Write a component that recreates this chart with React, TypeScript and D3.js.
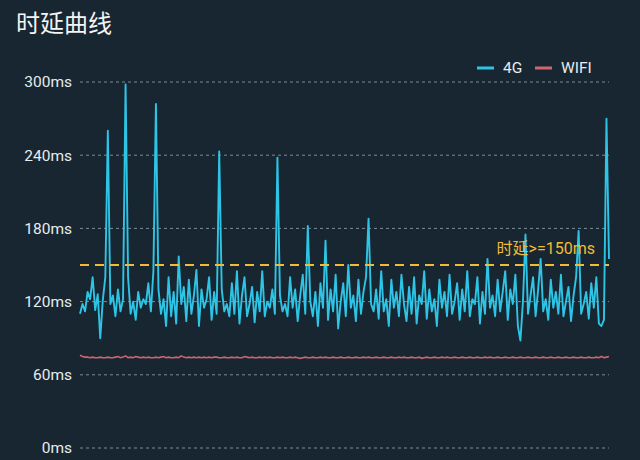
import { useEffect, useRef } from 'react';
import * as d3 from 'd3';

const yTicks = [0, 60, 120, 180, 240, 300];
const threshold = 150;
const thresholdLabel = '时延>=150ms';
const seriesNames = ['4G', 'WIFI'];

const lte = [
  110, 118, 112, 128, 122, 140, 113, 126, 90, 121,
  140, 260, 118, 125, 108, 130, 112, 122, 298, 140,
  110, 120, 105, 128, 115, 122, 118, 135, 112, 145,
  282, 130, 110, 122, 100, 140, 108, 128, 102, 157,
  118, 132, 104, 138, 110, 125, 146, 100, 130, 115,
  122, 140, 105, 128, 110, 243, 130, 112, 118, 108,
  135, 110, 145, 102, 125, 140, 108, 118, 132, 103,
  128, 112, 145, 108, 120, 115, 130, 110, 238, 125,
  112, 118, 108, 140, 115, 130, 104, 125, 142, 110,
  182, 120, 108, 128, 100, 135, 115, 170, 105, 130,
  112, 142, 98, 120, 135, 108, 150, 115, 125, 104,
  138, 110, 128, 140, 188, 118, 112, 130, 106, 145,
  112, 122, 100, 138, 115, 128, 108, 142, 118, 104,
  132, 110, 140, 102, 125, 118, 145, 106, 130, 112,
  122, 100, 138, 115, 128, 108, 142, 110, 120, 135,
  105, 130, 112, 145, 108, 122, 118, 140, 102, 128,
  110, 155, 115, 125, 108, 138, 112, 128, 145, 105,
  130, 118, 142, 100, 88, 120, 175, 110, 125, 140,
  108, 130, 155, 112, 122, 105, 138, 115, 128, 110,
  142, 108, 120, 132, 104, 125, 140, 178, 110, 118,
  128, 106, 135, 115, 140, 102, 100, 105, 270, 155,
];

const wifi = [
  76, 75, 74.5, 74.5, 74, 74.5, 74, 74, 74.5, 74,
  74, 74.5, 74, 74, 74.5, 75, 74, 74.5, 75.5, 74,
  74.5, 74, 75, 74.5, 74, 74.5, 74, 74.5, 74, 74,
  74.5, 74, 74.5, 75, 74, 74.5, 74, 74, 74.5, 74,
  75.5, 74.5, 74, 74.5, 74, 74.5, 74, 74.5, 74, 74.5,
  74, 74.5, 74, 74.5, 74.5, 74, 74, 74.5, 74, 74,
  74.5, 74, 74.5, 74, 74, 75, 74.5, 74, 74.5, 74,
  74, 74.5, 74, 74.5, 74, 74.5, 74, 74, 74.5, 74,
  74.5, 74, 74, 74.5, 74, 74.5, 74, 73.5, 74, 74.5,
  74, 74, 74.5, 74, 74, 74.5, 74, 74.5, 74, 74,
  74.5, 74, 74, 74.5, 74, 74, 74.5, 74, 74, 74.5,
  74, 74, 74.5, 74, 74.5, 74, 74, 74.5, 74, 74,
  74.5, 74, 74, 74.5, 74, 74, 74.5, 74, 74.5, 74,
  74, 74.5, 74, 74, 74.5, 73.5, 74, 74.5, 74, 74,
  74.5, 74, 74, 74.5, 74, 74.5, 74, 74, 74.5, 74,
  74, 74.5, 74, 74, 74.5, 74, 74, 74.5, 74, 74,
  74.5, 74, 74.5, 74, 74, 74.5, 74, 74, 74.5, 74,
  74, 74.5, 74, 74, 74.5, 74, 74, 74.5, 74, 74,
  74.5, 74, 74, 74.5, 74, 74, 74.5, 74, 74, 74.5,
  74, 74, 74.5, 74, 74, 74.5, 74, 74, 74.5, 74,
  74, 74.5, 74, 74, 74.5, 74, 75, 74, 74.5, 75,
];

export default function App() {
  const svgRef = useRef<SVGSVGElement>(null);

  useEffect(() => {
    if (!svgRef.current) return;
    const svg = d3.select(svgRef.current);
    svg.selectAll('*').remove();

    const width = 640;
    const height = 460;
    const margin = { top: 82, right: 31, bottom: 12, left: 80 };
    const bg = '#172630';
    const colors = ['#2ec4e6', '#d0646c'];
    const font = 'Roboto, "Noto Sans CJK SC", sans-serif';

    svg.append('rect').attr('width', width).attr('height', height).attr('fill', bg);

    svg.append('text')
      .attr('x', 16)
      .attr('y', 32)
      .attr('fill', '#f2f4f5')
      .attr('font-family', '"Noto Sans CJK SC", sans-serif')
      .attr('font-size', 24)
      .text('时延曲线');

    const x = d3.scaleLinear()
      .domain([0, lte.length - 1])
      .range([margin.left, width - margin.right]);
    const y = d3.scaleLinear()
      .domain([0, 300])
      .range([height - margin.bottom, margin.top]);

    // grid + tick labels
    const grid = svg.append('g');
    yTicks.forEach(t => {
      grid.append('line')
        .attr('x1', margin.left)
        .attr('x2', width - margin.right)
        .attr('y1', y(t))
        .attr('y2', y(t))
        .attr('stroke', '#7d8c96')
        .attr('stroke-width', 1)
        .attr('stroke-dasharray', '3,3');
      grid.append('text')
        .attr('x', 72)
        .attr('y', y(t))
        .attr('dy', '0.35em')
        .attr('text-anchor', 'end')
        .attr('fill', '#e8ecee')
        .attr('font-family', font)
        .attr('font-size', 15.5)
        .text(`${t}ms`);
    });

    const line = d3.line<number>()
      .x((_, i) => x(i))
      .y(d => y(d));

    svg.append('path')
      .datum(wifi)
      .attr('fill', 'none')
      .attr('stroke', colors[1])
      .attr('stroke-width', 1.6)
      .attr('d', line);

    svg.append('path')
      .datum(lte)
      .attr('fill', 'none')
      .attr('stroke', colors[0])
      .attr('stroke-width', 1.9)
      .attr('stroke-linejoin', 'round')
      .attr('d', line);

    // threshold
    svg.append('line')
      .attr('x1', margin.left)
      .attr('x2', width - margin.right)
      .attr('y1', y(threshold))
      .attr('y2', y(threshold))
      .attr('stroke', '#f2bb36')
      .attr('stroke-width', 1.8)
      .attr('stroke-dasharray', '9,6');

    svg.append('text')
      .attr('x', width - margin.right - 14)
      .attr('y', y(threshold) - 11)
      .attr('text-anchor', 'end')
      .attr('fill', '#f2bb36')
      .attr('font-family', font)
      .attr('font-size', 16)
      .text(thresholdLabel);

    // legend
    const legendX = [477, 535];
    seriesNames.forEach((name, i) => {
      const g = svg.append('g').attr('transform', `translate(${legendX[i]}, 68)`);
      g.append('line')
        .attr('x1', 0).attr('x2', 17)
        .attr('stroke', colors[i])
        .attr('stroke-width', 3);
      g.append('text')
        .attr('x', 26)
        .attr('dy', '0.35em')
        .attr('fill', '#e8ecee')
        .attr('font-family', font)
        .attr('font-size', 15.5)
        .text(name);
    });
  }, []);

  return (
    <div style={{ position: 'fixed', left: 0, top: 0 }}>
      <svg ref={svgRef} width={640} height={460} style={{ display: 'block' }} />
    </div>
  );
}
